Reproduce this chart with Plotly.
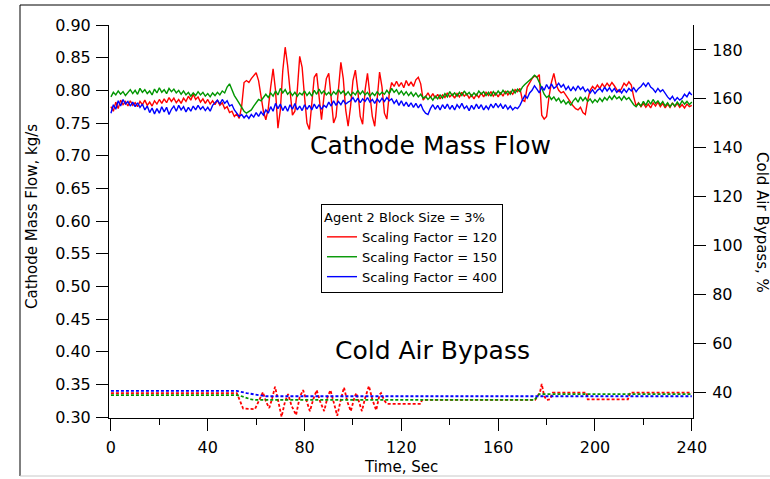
import plotly.graph_objects as go

# ---------------- data ----------------
time_s = list(range(0, 241))

flow_sf120 = [
    0.775, 0.768, 0.782, 0.772, 0.785, 0.778, 0.783, 0.776, 0.784, 0.777,
    0.781, 0.775, 0.783, 0.778, 0.785, 0.777, 0.782, 0.776, 0.784, 0.779,
    0.786, 0.780, 0.787, 0.781, 0.789, 0.783, 0.788, 0.781, 0.786, 0.780,
    0.788, 0.783, 0.791, 0.785, 0.794, 0.786, 0.790, 0.782, 0.787, 0.780,
    0.786, 0.779, 0.784, 0.778, 0.785, 0.777, 0.781, 0.772, 0.775, 0.766,
    0.768, 0.760, 0.764, 0.757, 0.775, 0.812, 0.815, 0.812, 0.818, 0.822,
    0.827, 0.815, 0.792, 0.768, 0.755, 0.772, 0.805, 0.833, 0.800, 0.742,
    0.770, 0.830, 0.866, 0.838, 0.800, 0.762, 0.768, 0.800, 0.852, 0.835,
    0.790, 0.750, 0.740, 0.780, 0.820, 0.826, 0.785, 0.755, 0.790, 0.818,
    0.826, 0.792, 0.750, 0.760, 0.805, 0.843, 0.818, 0.770, 0.745, 0.775,
    0.815, 0.831, 0.800, 0.760, 0.748, 0.800, 0.826, 0.795, 0.760, 0.745,
    0.790, 0.828, 0.805, 0.765, 0.756, 0.795, 0.812, 0.806, 0.814, 0.806,
    0.812, 0.804, 0.815, 0.807, 0.813, 0.806, 0.816, 0.820, 0.810, 0.785,
    0.790, 0.796, 0.789, 0.795, 0.788, 0.794, 0.787, 0.793, 0.789, 0.796,
    0.790, 0.794, 0.788, 0.795, 0.790, 0.797, 0.791, 0.795, 0.788, 0.793,
    0.787, 0.794, 0.789, 0.796, 0.790, 0.797, 0.792, 0.798, 0.791, 0.796,
    0.790, 0.797, 0.791, 0.799, 0.793, 0.798, 0.794, 0.801, 0.798, 0.803,
    0.785, 0.783, 0.805, 0.812, 0.818, 0.822, 0.820, 0.824, 0.762, 0.756,
    0.760, 0.790, 0.812, 0.826, 0.808, 0.800, 0.796, 0.798, 0.792, 0.786,
    0.780, 0.776, 0.772, 0.770, 0.774, 0.766, 0.763, 0.785, 0.800, 0.806,
    0.802, 0.808, 0.803, 0.810, 0.805, 0.811, 0.806, 0.812, 0.807, 0.801,
    0.798, 0.803, 0.811, 0.807, 0.813, 0.808, 0.790, 0.776, 0.781, 0.775,
    0.780, 0.774, 0.779, 0.773, 0.781, 0.776, 0.782, 0.775, 0.780, 0.773,
    0.779, 0.774, 0.781, 0.775, 0.780, 0.774, 0.778, 0.773, 0.779, 0.775,
    0.777,
]

flow_sf150 = [
    0.790, 0.797, 0.793, 0.799, 0.794, 0.798, 0.792, 0.797, 0.801, 0.795,
    0.800, 0.794, 0.803, 0.797, 0.801, 0.795, 0.799, 0.793, 0.802, 0.796,
    0.804, 0.797, 0.801, 0.795, 0.803, 0.798, 0.802, 0.796, 0.800, 0.794,
    0.799, 0.793, 0.797, 0.791, 0.796, 0.792, 0.798, 0.793, 0.797, 0.791,
    0.795, 0.790, 0.796, 0.792, 0.797, 0.793, 0.799, 0.796, 0.805, 0.810,
    0.800, 0.792, 0.786, 0.780, 0.773, 0.768, 0.765, 0.767, 0.770, 0.776,
    0.782, 0.786, 0.784, 0.790, 0.794, 0.789, 0.796, 0.791, 0.799, 0.793,
    0.803, 0.796, 0.801, 0.794, 0.798, 0.792, 0.797, 0.791, 0.796, 0.793,
    0.799, 0.792, 0.797, 0.791, 0.800, 0.794, 0.802, 0.795, 0.799, 0.793,
    0.797, 0.792, 0.798, 0.794, 0.801, 0.795, 0.799, 0.793, 0.798, 0.792,
    0.797, 0.793, 0.800, 0.794, 0.799, 0.793, 0.797, 0.791, 0.796, 0.792,
    0.798, 0.793, 0.797, 0.794, 0.800, 0.795, 0.803, 0.797, 0.801, 0.794,
    0.799, 0.793, 0.798, 0.792, 0.797, 0.791, 0.796, 0.790, 0.794, 0.788,
    0.791, 0.786, 0.790, 0.785, 0.791, 0.787, 0.793, 0.788, 0.795, 0.790,
    0.798, 0.792, 0.796, 0.791, 0.797, 0.792, 0.799, 0.793, 0.797, 0.791,
    0.796, 0.792, 0.799, 0.794, 0.798, 0.792, 0.797, 0.791, 0.798, 0.793,
    0.799, 0.794, 0.800, 0.795, 0.799, 0.794, 0.801, 0.796, 0.802, 0.798,
    0.805, 0.809, 0.812, 0.816, 0.819, 0.823, 0.820, 0.812, 0.803, 0.794,
    0.789, 0.792, 0.786, 0.790, 0.784, 0.788, 0.781, 0.785, 0.779, 0.783,
    0.777, 0.784, 0.788, 0.782, 0.790, 0.784, 0.789, 0.783, 0.787, 0.781,
    0.786, 0.782, 0.788, 0.783, 0.789, 0.785, 0.791, 0.786, 0.792, 0.787,
    0.790, 0.785, 0.791, 0.786, 0.789, 0.783, 0.778, 0.775, 0.780, 0.776,
    0.783, 0.777, 0.785, 0.779, 0.786, 0.780, 0.784, 0.778, 0.783, 0.776,
    0.781, 0.775, 0.780, 0.776, 0.782, 0.777, 0.784, 0.779, 0.783, 0.778,
    0.782,
]

flow_sf400 = [
    0.765, 0.778, 0.771, 0.784, 0.776, 0.786, 0.779, 0.783, 0.776, 0.782,
    0.775, 0.781, 0.774, 0.779, 0.770, 0.776, 0.766, 0.773, 0.764, 0.772,
    0.765, 0.775, 0.767, 0.774, 0.763, 0.771, 0.776, 0.768, 0.777, 0.770,
    0.775, 0.767, 0.774, 0.768, 0.776, 0.770, 0.777, 0.771, 0.775, 0.769,
    0.774, 0.768, 0.777, 0.781, 0.785, 0.779, 0.786, 0.780, 0.784, 0.776,
    0.778, 0.770, 0.765, 0.760, 0.763, 0.758, 0.762, 0.757, 0.763, 0.759,
    0.766, 0.760, 0.767, 0.762, 0.770, 0.765, 0.775, 0.768, 0.780, 0.772,
    0.779, 0.769, 0.776, 0.768, 0.778, 0.771, 0.780, 0.770, 0.776, 0.769,
    0.778, 0.771, 0.777, 0.770, 0.779, 0.772, 0.778, 0.771, 0.777, 0.774,
    0.782, 0.776, 0.784, 0.777, 0.783, 0.778, 0.785, 0.779, 0.782, 0.784,
    0.789, 0.782, 0.788, 0.781, 0.787, 0.783, 0.789, 0.782, 0.786, 0.780,
    0.787, 0.782, 0.788, 0.783, 0.789, 0.784, 0.787, 0.780, 0.785, 0.777,
    0.784, 0.776, 0.782, 0.775, 0.781, 0.774, 0.780, 0.773, 0.779, 0.770,
    0.765, 0.763, 0.772, 0.778, 0.771, 0.777, 0.770, 0.778, 0.772, 0.779,
    0.771, 0.777, 0.770, 0.778, 0.773, 0.780, 0.772, 0.776, 0.769, 0.777,
    0.771, 0.779, 0.772, 0.778, 0.770, 0.776, 0.771, 0.779, 0.773, 0.780,
    0.774, 0.779, 0.772, 0.778, 0.771, 0.776, 0.770, 0.774, 0.772, 0.777,
    0.785, 0.792, 0.788, 0.796, 0.800, 0.807, 0.802, 0.796, 0.806, 0.800,
    0.809, 0.802, 0.810, 0.803, 0.806, 0.811, 0.805, 0.809, 0.801, 0.806,
    0.799, 0.805, 0.800, 0.807, 0.801, 0.805, 0.798, 0.802, 0.796, 0.801,
    0.795, 0.800, 0.803, 0.798, 0.805, 0.799, 0.804, 0.798, 0.803, 0.797,
    0.801, 0.796, 0.802, 0.797, 0.803, 0.799, 0.804, 0.798, 0.803, 0.806,
    0.811, 0.806, 0.812, 0.805, 0.802, 0.797, 0.803, 0.798, 0.801, 0.795,
    0.790, 0.786, 0.791, 0.784, 0.789, 0.785, 0.788, 0.794, 0.790, 0.797,
    0.793,
]

# Cold air bypass (%), right axis
bypass_sf120_t = [0, 52, 53.5, 54.6, 59.5, 61.6, 62.8, 64.1, 65.4, 66.5, 67.8, 69.2, 70.5,
                  71.9, 73.2, 74.6, 76.5, 78, 79.4, 80.8, 82.2, 83.6, 85, 86.5, 88.1,
                  89.5, 90.7, 92, 93.5, 95, 96.3, 97.7, 99.1, 100.4, 101.3, 102.5, 103.7,
                  105, 106.6, 108, 109.6, 111, 111.6, 113, 114, 128, 128.5, 175.3, 177.3,
                  178, 179, 180, 181.4, 182.6, 196.5, 197, 213.6, 214.5, 240]
bypass_sf120 = [39.6, 39.6, 36.0, 33.3, 33.0, 37.5, 40.0, 36.0, 33.5, 37.0, 42.2, 36.0, 29.9,
                36.0, 39.2, 34.5, 30.6, 38.0, 40.8, 36.5, 32.2, 37.0, 40.8, 36.0, 32.2,
                38.0, 40.8, 36.0, 30.3, 37.0, 41.9, 36.0, 32.2, 37.0, 39.6, 36.0, 32.2,
                37.5, 42.5, 37.0, 32.6, 39.0, 39.6, 36.5, 35.2, 35.2, 36.8, 36.8, 40.0,
                43.3, 38.4, 36.8, 37.0, 39.8, 39.8, 37.0, 37.0, 39.8, 39.8]

bypass_sf150_t = [0, 52, 54, 56, 58, 60, 175, 177, 240]
bypass_sf150 = [38.8, 38.8, 38.3, 37.5, 37.0, 36.8, 36.8, 39.2, 39.2]

bypass_sf400_t = [0, 52, 56, 60, 64, 240]
bypass_sf400 = [40.5, 40.5, 39.6, 38.9, 38.3, 38.3]

series_names = ["Scaling Factor = 120", "Scaling Factor = 150", "Scaling Factor = 400"]
series_colors = ["#ff0000", "#009600", "#0000ff"]

left_ticks = [0.30, 0.35, 0.40, 0.45, 0.50, 0.55, 0.60, 0.65, 0.70, 0.75, 0.80, 0.85, 0.90]
right_ticks = [40, 60, 80, 100, 120, 140, 160, 180]
x_ticks = [0, 40, 80, 120, 160, 200, 240]

# ---------------- figure ----------------
FONT = "DejaVu Sans, Verdana, sans-serif"
fig = go.Figure()

flows = [flow_sf120, flow_sf150, flow_sf400]
for name, col, vals in zip(series_names, series_colors, flows):
    fig.add_trace(go.Scatter(x=time_s, y=vals, mode="lines", name=name,
                             line=dict(color=col, width=1.4), yaxis="y"))

bypasses = [(bypass_sf120_t, bypass_sf120), (bypass_sf150_t, bypass_sf150),
            (bypass_sf400_t, bypass_sf400)]
for name, col, (bt, bv) in zip(series_names, series_colors, bypasses):
    fig.add_trace(go.Scatter(x=bt, y=bv, mode="lines", name=name + " bypass",
                             showlegend=False,
                             line=dict(color=col, width=1.8, dash="3px,2px"),
                             yaxis="y2"))

L, R, T, B = 109, 77, 25, 61
W, H = 770, 479
pw, ph = W - L - R, H - T - B


def px2paper_x(px):
    return (px - L) / pw


def px2paper_y(py):
    return (H - B - py) / ph


axis_common = dict(showgrid=False, zeroline=False, showline=True, linecolor="black",
                   linewidth=1, ticks="outside", ticklen=12, tickwidth=1,
                   tickcolor="black", tickfont=dict(family=FONT, size=16, color="black"))

fig.update_layout(
    width=W, height=H,
    margin=dict(l=L, r=R, t=T, b=B, pad=0),
    paper_bgcolor="white", plot_bgcolor="white",
    font=dict(family=FONT, color="black"),
    xaxis=dict(range=[-0.8, 240.5], tickvals=x_ticks, ticklabelstandoff=3,
               minor=dict(dtick=20, tick0=0, ticklen=6, ticks="outside", tickcolor="black"),
               **axis_common),
    yaxis=dict(range=[0.2985, 0.9], tickvals=left_ticks, tickformat=".2f",
               ticklabelstandoff=2, **axis_common),
    yaxis2=dict(range=[29.4, 190.2], tickvals=right_ticks, overlaying="y", side="right",
                ticklabelstandoff=3, **axis_common),
    legend=dict(x=px2paper_x(321), y=px2paper_y(204), xanchor="left", yanchor="top",
                bgcolor="white", bordercolor="black", borderwidth=1,
                font=dict(family=FONT, size=13, color="black"),
                title=dict(text="Agent 2 Block Size = 3%",
                           font=dict(family=FONT, size=13, color="black")),
                tracegroupgap=0),
    showlegend=True,
)

annos = [
    dict(text="Cathode Mass Flow", x=px2paper_x(430), y=px2paper_y(145), size=25, angle=0),
    dict(text="Cold Air Bypass", x=px2paper_x(432), y=px2paper_y(350), size=25, angle=0),
    dict(text="Cathode Mass Flow, kg/s", x=px2paper_x(32), y=px2paper_y(217), size=15, angle=-90),
    dict(text="Cold Air Bypass, %", x=px2paper_x(762), y=px2paper_y(222), size=15, angle=90),
    dict(text="Time, Sec", x=px2paper_x(401), y=px2paper_y(467), size=15, angle=0),
]
for a in annos:
    fig.add_annotation(text=a["text"], x=a["x"], y=a["y"], xref="paper", yref="paper",
                       xanchor="center", yanchor="middle", showarrow=False,
                       textangle=a["angle"],
                       font=dict(family=FONT, size=a["size"], color="black"))

# outer frame (left/top dark, bottom light)
fx0, fx1 = px2paper_x(20), px2paper_x(800)
fy_top, fy_bot = px2paper_y(5), px2paper_y(476)
fig.add_shape(type="line", xref="paper", yref="paper", x0=fx0, x1=fx0, y0=fy_bot, y1=fy_top,
              line=dict(color="black", width=1))
fig.add_shape(type="line", xref="paper", yref="paper", x0=fx0, x1=fx1, y0=fy_top, y1=fy_top,
              line=dict(color="black", width=1))
fig.add_shape(type="line", xref="paper", yref="paper", x0=fx0, x1=fx1, y0=fy_bot, y1=fy_bot,
              line=dict(color="#c8c8c8", width=1))

fig.write_html("out.html")
